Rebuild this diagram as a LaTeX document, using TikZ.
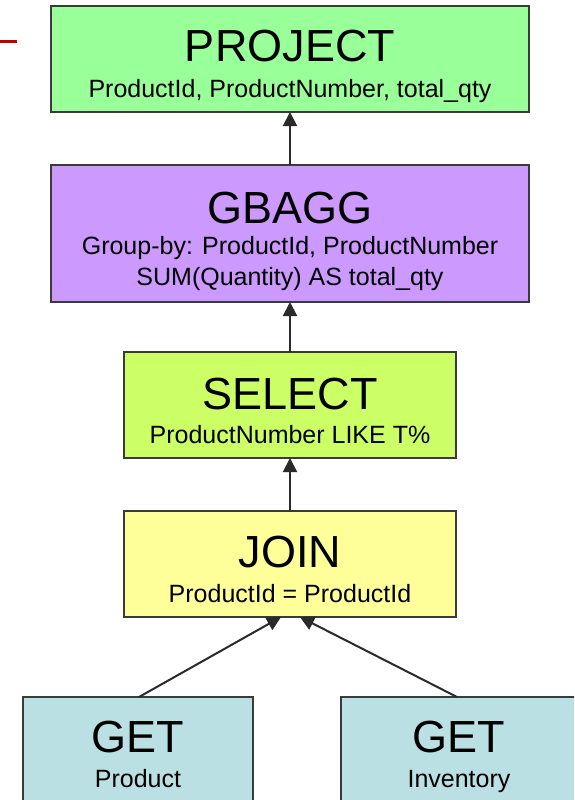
\documentclass[tikz,border=0pt]{standalone}
\usepackage{fontspec}
\setmainfont{Liberation Sans}
\usetikzlibrary{arrows.meta}
\definecolor{projfill}{HTML}{99FF99}
\definecolor{gbaggfill}{HTML}{CC99FF}
\definecolor{selfill}{HTML}{CCFF66}
\definecolor{joinfill}{HTML}{FFFF99}
\definecolor{getfill}{HTML}{BBE0E3}
\definecolor{boxline}{HTML}{3A3A3A}
\definecolor{arrline}{HTML}{2A2A2A}
\definecolor{redmark}{HTML}{C00000}
\tikzset{
  box/.style={draw=boxline, line width=2pt, inner sep=0pt, outer sep=0pt},
  ttl/.style={font=\fontsize{45}{50}\selectfont, anchor=base, inner sep=0pt},
  sub/.style={font=\fontsize{25}{29}\selectfont, anchor=base, inner sep=0pt},
  arr/.style={draw=arrline, line width=2pt, -{Triangle[length=14pt,width=14pt]}},
  redline/.style={draw=redmark, line width=3pt}
}
\begin{document}
\begin{tikzpicture}[x=1pt,y=-1pt]
\useasboundingbox (0,0) rectangle (574,800);
\clip (0,0) rectangle (574,800);
% boxes
\node[box, fill=projfill, minimum width=478pt, minimum height=106pt] (project) at (290,59) {};
\node[box, fill=gbaggfill, minimum width=478pt, minimum height=137pt] (gbagg) at (290,233.5) {};
\node[box, fill=selfill, minimum width=332pt, minimum height=106pt] (select) at (290,405) {};
\node[box, fill=joinfill, minimum width=332pt, minimum height=106pt] (join) at (290,564) {};
\node[box, fill=getfill, minimum width=230pt, minimum height=111pt] (getp) at (138,752.5) {};
\node[box, fill=getfill, minimum width=236pt, minimum height=111pt] (geti) at (459,752.5) {};
% texts
\node[ttl] (projectT) at (290,62) {PROJECT};
\node[sub] (projectS) at (290,97) {ProductId, ProductNumber, total\_qty};
\node[ttl] (gbaggT) at (290,223) {GBAGG};
\node[sub] (gbaggS1) at (290,254) {Group-by: ProductId, ProductNumber};
\node[sub] (gbaggS2) at (290,285) {SUM(Quantity) AS total\_qty};
\node[ttl] (selectT) at (290,409) {SELECT};
\node[sub] (selectS) at (290,443) {ProductNumber LIKE T\%};
\node[ttl] (joinT) at (290,567) {JOIN};
\node[sub] (joinS) at (290,602) {ProductId = ProductId};
\node[ttl] (getpT) at (138,752) {GET};
\node[sub] (getpS) at (138,787) {Product};
\node[ttl] (getiT) at (459,752) {GET};
\node[sub] (getiS) at (459,787) {Inventory};
% connectors
\draw[arr] (gbagg.north) -- (project.south);
\draw[arr] (select.north) -- (gbagg.south);
\draw[arr] (join.north) -- (select.south);
\draw[arr] ([xshift=1pt]getp.north) -- ([xshift=-9pt]join.south);
\draw[arr] ([xshift=-2pt]geti.north) -- ([xshift=10pt]join.south);
% red mark
\coordinate (r1) at (0,42);
\coordinate (r2) at (17,42);
\draw[redline] (r1) -- (r2);
\end{tikzpicture}
\end{document}
